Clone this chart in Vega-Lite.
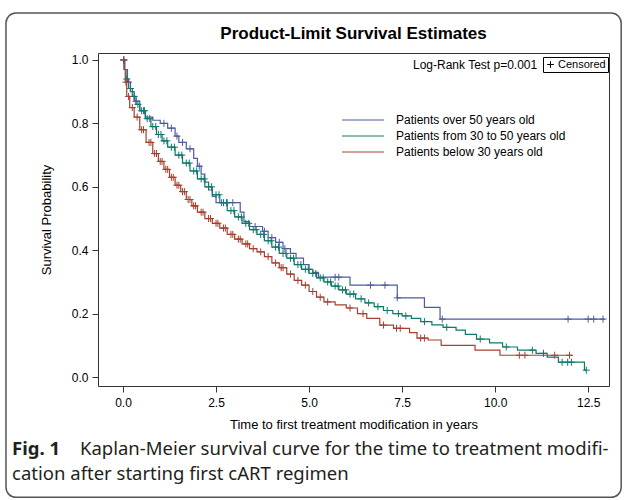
{
  "$schema": "https://vega.github.io/schema/vega-lite/v6.json",
  "width": 511,
  "height": 333,
  "padding": {"left": 5, "top": 12, "right": 0, "bottom": 0},
  "background": "white",
  "config": {
    "view": {"stroke": "#333", "strokeWidth": 1},
    "axis": {"grid": false, "domain": false, "tickSize": 6, "tickColor": "#333", "labelFont": "Liberation Sans", "labelFontSize": 12, "labelColor": "#000", "titleFont": "Liberation Sans", "titleFontSize": 13, "titleFontWeight": "normal", "titleColor": "#000"},
    "axisX": {"labelPadding": 5, "titlePadding": 10},
    "axisY": {"labelPadding": 4, "titlePadding": 18}
  },
  "datasets": {
    "curves": [
      {"group": "Patients over 50 years old", "t": 0, "S": 1.0},
      {"group": "Patients over 50 years old", "t": 0.05, "S": 0.97},
      {"group": "Patients over 50 years old", "t": 0.12, "S": 0.93},
      {"group": "Patients over 50 years old", "t": 0.2, "S": 0.9},
      {"group": "Patients over 50 years old", "t": 0.3, "S": 0.87},
      {"group": "Patients over 50 years old", "t": 0.45, "S": 0.84},
      {"group": "Patients over 50 years old", "t": 0.6, "S": 0.82},
      {"group": "Patients over 50 years old", "t": 0.8, "S": 0.81},
      {"group": "Patients over 50 years old", "t": 1.0, "S": 0.8},
      {"group": "Patients over 50 years old", "t": 1.2, "S": 0.785},
      {"group": "Patients over 50 years old", "t": 1.4, "S": 0.76},
      {"group": "Patients over 50 years old", "t": 1.5, "S": 0.74},
      {"group": "Patients over 50 years old", "t": 1.7, "S": 0.72},
      {"group": "Patients over 50 years old", "t": 1.9, "S": 0.69},
      {"group": "Patients over 50 years old", "t": 2.0, "S": 0.665},
      {"group": "Patients over 50 years old", "t": 2.1, "S": 0.64},
      {"group": "Patients over 50 years old", "t": 2.2, "S": 0.615},
      {"group": "Patients over 50 years old", "t": 2.3, "S": 0.59},
      {"group": "Patients over 50 years old", "t": 2.4, "S": 0.57},
      {"group": "Patients over 50 years old", "t": 2.5, "S": 0.55},
      {"group": "Patients over 50 years old", "t": 3.15, "S": 0.52},
      {"group": "Patients over 50 years old", "t": 3.25, "S": 0.49},
      {"group": "Patients over 50 years old", "t": 3.4, "S": 0.475},
      {"group": "Patients over 50 years old", "t": 3.75, "S": 0.46},
      {"group": "Patients over 50 years old", "t": 3.9, "S": 0.44},
      {"group": "Patients over 50 years old", "t": 4.1, "S": 0.425},
      {"group": "Patients over 50 years old", "t": 4.3, "S": 0.405},
      {"group": "Patients over 50 years old", "t": 4.5, "S": 0.39},
      {"group": "Patients over 50 years old", "t": 4.65, "S": 0.375},
      {"group": "Patients over 50 years old", "t": 4.85, "S": 0.355},
      {"group": "Patients over 50 years old", "t": 5.0, "S": 0.34},
      {"group": "Patients over 50 years old", "t": 5.1, "S": 0.33},
      {"group": "Patients over 50 years old", "t": 5.25, "S": 0.315},
      {"group": "Patients over 50 years old", "t": 6.1, "S": 0.29},
      {"group": "Patients over 50 years old", "t": 7.37, "S": 0.25},
      {"group": "Patients over 50 years old", "t": 8.1, "S": 0.22},
      {"group": "Patients over 50 years old", "t": 8.52, "S": 0.183},
      {"group": "Patients over 50 years old", "t": 12.95, "S": 0.183},

      {"group": "Patients from 30 to 50 years old", "t": 0, "S": 1.0},
      {"group": "Patients from 30 to 50 years old", "t": 0.03, "S": 0.97},
      {"group": "Patients from 30 to 50 years old", "t": 0.08, "S": 0.94},
      {"group": "Patients from 30 to 50 years old", "t": 0.15, "S": 0.91},
      {"group": "Patients from 30 to 50 years old", "t": 0.25, "S": 0.885},
      {"group": "Patients from 30 to 50 years old", "t": 0.35, "S": 0.86},
      {"group": "Patients from 30 to 50 years old", "t": 0.45, "S": 0.84},
      {"group": "Patients from 30 to 50 years old", "t": 0.6, "S": 0.815},
      {"group": "Patients from 30 to 50 years old", "t": 0.75, "S": 0.79},
      {"group": "Patients from 30 to 50 years old", "t": 0.9, "S": 0.765},
      {"group": "Patients from 30 to 50 years old", "t": 1.05, "S": 0.745},
      {"group": "Patients from 30 to 50 years old", "t": 1.2, "S": 0.725},
      {"group": "Patients from 30 to 50 years old", "t": 1.4, "S": 0.7},
      {"group": "Patients from 30 to 50 years old", "t": 1.6, "S": 0.675},
      {"group": "Patients from 30 to 50 years old", "t": 1.8, "S": 0.65},
      {"group": "Patients from 30 to 50 years old", "t": 2.0, "S": 0.625},
      {"group": "Patients from 30 to 50 years old", "t": 2.2, "S": 0.6},
      {"group": "Patients from 30 to 50 years old", "t": 2.4, "S": 0.575},
      {"group": "Patients from 30 to 50 years old", "t": 2.6, "S": 0.55},
      {"group": "Patients from 30 to 50 years old", "t": 2.8, "S": 0.525},
      {"group": "Patients from 30 to 50 years old", "t": 3.0, "S": 0.505},
      {"group": "Patients from 30 to 50 years old", "t": 3.2, "S": 0.485},
      {"group": "Patients from 30 to 50 years old", "t": 3.4, "S": 0.465},
      {"group": "Patients from 30 to 50 years old", "t": 3.6, "S": 0.45},
      {"group": "Patients from 30 to 50 years old", "t": 3.8, "S": 0.43},
      {"group": "Patients from 30 to 50 years old", "t": 4.0, "S": 0.41},
      {"group": "Patients from 30 to 50 years old", "t": 4.2, "S": 0.39},
      {"group": "Patients from 30 to 50 years old", "t": 4.4, "S": 0.375},
      {"group": "Patients from 30 to 50 years old", "t": 4.6, "S": 0.355},
      {"group": "Patients from 30 to 50 years old", "t": 4.8, "S": 0.34},
      {"group": "Patients from 30 to 50 years old", "t": 5.0, "S": 0.327},
      {"group": "Patients from 30 to 50 years old", "t": 5.2, "S": 0.313},
      {"group": "Patients from 30 to 50 years old", "t": 5.4, "S": 0.3},
      {"group": "Patients from 30 to 50 years old", "t": 5.6, "S": 0.287},
      {"group": "Patients from 30 to 50 years old", "t": 5.8, "S": 0.275},
      {"group": "Patients from 30 to 50 years old", "t": 6.0, "S": 0.262},
      {"group": "Patients from 30 to 50 years old", "t": 6.25, "S": 0.247},
      {"group": "Patients from 30 to 50 years old", "t": 6.5, "S": 0.234},
      {"group": "Patients from 30 to 50 years old", "t": 6.75, "S": 0.222},
      {"group": "Patients from 30 to 50 years old", "t": 7.0, "S": 0.21},
      {"group": "Patients from 30 to 50 years old", "t": 7.25, "S": 0.2},
      {"group": "Patients from 30 to 50 years old", "t": 7.5, "S": 0.193},
      {"group": "Patients from 30 to 50 years old", "t": 7.75, "S": 0.185},
      {"group": "Patients from 30 to 50 years old", "t": 8.0, "S": 0.175},
      {"group": "Patients from 30 to 50 years old", "t": 8.3, "S": 0.165},
      {"group": "Patients from 30 to 50 years old", "t": 8.6, "S": 0.157},
      {"group": "Patients from 30 to 50 years old", "t": 8.95, "S": 0.148},
      {"group": "Patients from 30 to 50 years old", "t": 9.2, "S": 0.135},
      {"group": "Patients from 30 to 50 years old", "t": 9.5, "S": 0.12},
      {"group": "Patients from 30 to 50 years old", "t": 9.85, "S": 0.108},
      {"group": "Patients from 30 to 50 years old", "t": 10.2, "S": 0.095},
      {"group": "Patients from 30 to 50 years old", "t": 10.6, "S": 0.085},
      {"group": "Patients from 30 to 50 years old", "t": 11.1, "S": 0.075},
      {"group": "Patients from 30 to 50 years old", "t": 11.4, "S": 0.063},
      {"group": "Patients from 30 to 50 years old", "t": 11.7, "S": 0.047},
      {"group": "Patients from 30 to 50 years old", "t": 12.4, "S": 0.022},
      {"group": "Patients from 30 to 50 years old", "t": 12.45, "S": 0.022},

      {"group": "Patients below 30 years old", "t": 0, "S": 1.0},
      {"group": "Patients below 30 years old", "t": 0.03, "S": 0.97},
      {"group": "Patients below 30 years old", "t": 0.06, "S": 0.93},
      {"group": "Patients below 30 years old", "t": 0.1, "S": 0.885},
      {"group": "Patients below 30 years old", "t": 0.18, "S": 0.85},
      {"group": "Patients below 30 years old", "t": 0.3, "S": 0.82},
      {"group": "Patients below 30 years old", "t": 0.45, "S": 0.78},
      {"group": "Patients below 30 years old", "t": 0.62, "S": 0.74},
      {"group": "Patients below 30 years old", "t": 0.8, "S": 0.705},
      {"group": "Patients below 30 years old", "t": 0.95, "S": 0.68},
      {"group": "Patients below 30 years old", "t": 1.1, "S": 0.655},
      {"group": "Patients below 30 years old", "t": 1.25, "S": 0.63},
      {"group": "Patients below 30 years old", "t": 1.4, "S": 0.605},
      {"group": "Patients below 30 years old", "t": 1.55, "S": 0.585},
      {"group": "Patients below 30 years old", "t": 1.7, "S": 0.56},
      {"group": "Patients below 30 years old", "t": 1.85, "S": 0.54},
      {"group": "Patients below 30 years old", "t": 2.0, "S": 0.52},
      {"group": "Patients below 30 years old", "t": 2.2, "S": 0.5},
      {"group": "Patients below 30 years old", "t": 2.4, "S": 0.485},
      {"group": "Patients below 30 years old", "t": 2.6, "S": 0.47},
      {"group": "Patients below 30 years old", "t": 2.8, "S": 0.45},
      {"group": "Patients below 30 years old", "t": 3.0, "S": 0.435},
      {"group": "Patients below 30 years old", "t": 3.2, "S": 0.42},
      {"group": "Patients below 30 years old", "t": 3.4, "S": 0.405},
      {"group": "Patients below 30 years old", "t": 3.6, "S": 0.395},
      {"group": "Patients below 30 years old", "t": 3.8, "S": 0.38},
      {"group": "Patients below 30 years old", "t": 4.0, "S": 0.36},
      {"group": "Patients below 30 years old", "t": 4.2, "S": 0.345},
      {"group": "Patients below 30 years old", "t": 4.4, "S": 0.325},
      {"group": "Patients below 30 years old", "t": 4.6, "S": 0.305},
      {"group": "Patients below 30 years old", "t": 4.8, "S": 0.29},
      {"group": "Patients below 30 years old", "t": 5.0, "S": 0.27},
      {"group": "Patients below 30 years old", "t": 5.2, "S": 0.252},
      {"group": "Patients below 30 years old", "t": 5.4, "S": 0.237},
      {"group": "Patients below 30 years old", "t": 5.7, "S": 0.228},
      {"group": "Patients below 30 years old", "t": 6.0, "S": 0.218},
      {"group": "Patients below 30 years old", "t": 6.3, "S": 0.2},
      {"group": "Patients below 30 years old", "t": 6.55, "S": 0.185},
      {"group": "Patients below 30 years old", "t": 6.9, "S": 0.164},
      {"group": "Patients below 30 years old", "t": 7.27, "S": 0.154},
      {"group": "Patients below 30 years old", "t": 7.7, "S": 0.14},
      {"group": "Patients below 30 years old", "t": 7.9, "S": 0.123},
      {"group": "Patients below 30 years old", "t": 8.2, "S": 0.117},
      {"group": "Patients below 30 years old", "t": 8.55, "S": 0.1},
      {"group": "Patients below 30 years old", "t": 9.46, "S": 0.085},
      {"group": "Patients below 30 years old", "t": 10.13, "S": 0.069},
      {"group": "Patients below 30 years old", "t": 12.07, "S": 0.069}
    ],
    "censored": [
      {"group": "Patients over 50 years old", "t": 0.02, "S": 1.0, "status": "Censored"},
      {"group": "Patients over 50 years old", "t": 0.15, "S": 0.93, "status": "Censored"},
      {"group": "Patients over 50 years old", "t": 0.35, "S": 0.87, "status": "Censored"},
      {"group": "Patients over 50 years old", "t": 0.55, "S": 0.84, "status": "Censored"},
      {"group": "Patients over 50 years old", "t": 1.1, "S": 0.8, "status": "Censored"},
      {"group": "Patients over 50 years old", "t": 1.3, "S": 0.785, "status": "Censored"},
      {"group": "Patients over 50 years old", "t": 1.45, "S": 0.76, "status": "Censored"},
      {"group": "Patients over 50 years old", "t": 1.6, "S": 0.74, "status": "Censored"},
      {"group": "Patients over 50 years old", "t": 1.8, "S": 0.72, "status": "Censored"},
      {"group": "Patients over 50 years old", "t": 2.05, "S": 0.665, "status": "Censored"},
      {"group": "Patients over 50 years old", "t": 2.65, "S": 0.55, "status": "Censored"},
      {"group": "Patients over 50 years old", "t": 2.8, "S": 0.55, "status": "Censored"},
      {"group": "Patients over 50 years old", "t": 2.95, "S": 0.55, "status": "Censored"},
      {"group": "Patients over 50 years old", "t": 3.55, "S": 0.475, "status": "Censored"},
      {"group": "Patients over 50 years old", "t": 3.8, "S": 0.46, "status": "Censored"},
      {"group": "Patients over 50 years old", "t": 4.0, "S": 0.44, "status": "Censored"},
      {"group": "Patients over 50 years old", "t": 4.2, "S": 0.425, "status": "Censored"},
      {"group": "Patients over 50 years old", "t": 4.35, "S": 0.405, "status": "Censored"},
      {"group": "Patients over 50 years old", "t": 5.7, "S": 0.315, "status": "Censored"},
      {"group": "Patients over 50 years old", "t": 5.8, "S": 0.315, "status": "Censored"},
      {"group": "Patients over 50 years old", "t": 6.65, "S": 0.29, "status": "Censored"},
      {"group": "Patients over 50 years old", "t": 7.04, "S": 0.29, "status": "Censored"},
      {"group": "Patients over 50 years old", "t": 7.37, "S": 0.25, "status": "Censored"},
      {"group": "Patients over 50 years old", "t": 8.58, "S": 0.183, "status": "Censored"},
      {"group": "Patients over 50 years old", "t": 11.96, "S": 0.183, "status": "Censored"},
      {"group": "Patients over 50 years old", "t": 12.5, "S": 0.183, "status": "Censored"},
      {"group": "Patients over 50 years old", "t": 12.65, "S": 0.183, "status": "Censored"},
      {"group": "Patients over 50 years old", "t": 12.9, "S": 0.183, "status": "Censored"},

      {"group": "Patients from 30 to 50 years old", "t": 0.02, "S": 1.0, "status": "Censored"},
      {"group": "Patients from 30 to 50 years old", "t": 0.1, "S": 0.94, "status": "Censored"},
      {"group": "Patients from 30 to 50 years old", "t": 0.2, "S": 0.91, "status": "Censored"},
      {"group": "Patients from 30 to 50 years old", "t": 0.3, "S": 0.885, "status": "Censored"},
      {"group": "Patients from 30 to 50 years old", "t": 0.4, "S": 0.86, "status": "Censored"},
      {"group": "Patients from 30 to 50 years old", "t": 0.5, "S": 0.84, "status": "Censored"},
      {"group": "Patients from 30 to 50 years old", "t": 0.58, "S": 0.84, "status": "Censored"},
      {"group": "Patients from 30 to 50 years old", "t": 0.65, "S": 0.815, "status": "Censored"},
      {"group": "Patients from 30 to 50 years old", "t": 0.72, "S": 0.815, "status": "Censored"},
      {"group": "Patients from 30 to 50 years old", "t": 0.8, "S": 0.79, "status": "Censored"},
      {"group": "Patients from 30 to 50 years old", "t": 0.88, "S": 0.79, "status": "Censored"},
      {"group": "Patients from 30 to 50 years old", "t": 0.95, "S": 0.765, "status": "Censored"},
      {"group": "Patients from 30 to 50 years old", "t": 1.02, "S": 0.765, "status": "Censored"},
      {"group": "Patients from 30 to 50 years old", "t": 1.1, "S": 0.745, "status": "Censored"},
      {"group": "Patients from 30 to 50 years old", "t": 1.18, "S": 0.745, "status": "Censored"},
      {"group": "Patients from 30 to 50 years old", "t": 1.3, "S": 0.725, "status": "Censored"},
      {"group": "Patients from 30 to 50 years old", "t": 1.38, "S": 0.725, "status": "Censored"},
      {"group": "Patients from 30 to 50 years old", "t": 1.5, "S": 0.7, "status": "Censored"},
      {"group": "Patients from 30 to 50 years old", "t": 1.58, "S": 0.7, "status": "Censored"},
      {"group": "Patients from 30 to 50 years old", "t": 1.7, "S": 0.675, "status": "Censored"},
      {"group": "Patients from 30 to 50 years old", "t": 1.78, "S": 0.675, "status": "Censored"},
      {"group": "Patients from 30 to 50 years old", "t": 1.9, "S": 0.65, "status": "Censored"},
      {"group": "Patients from 30 to 50 years old", "t": 1.98, "S": 0.65, "status": "Censored"},
      {"group": "Patients from 30 to 50 years old", "t": 2.1, "S": 0.625, "status": "Censored"},
      {"group": "Patients from 30 to 50 years old", "t": 2.18, "S": 0.625, "status": "Censored"},
      {"group": "Patients from 30 to 50 years old", "t": 2.3, "S": 0.6, "status": "Censored"},
      {"group": "Patients from 30 to 50 years old", "t": 2.38, "S": 0.6, "status": "Censored"},
      {"group": "Patients from 30 to 50 years old", "t": 2.5, "S": 0.575, "status": "Censored"},
      {"group": "Patients from 30 to 50 years old", "t": 2.58, "S": 0.575, "status": "Censored"},
      {"group": "Patients from 30 to 50 years old", "t": 2.7, "S": 0.55, "status": "Censored"},
      {"group": "Patients from 30 to 50 years old", "t": 2.78, "S": 0.55, "status": "Censored"},
      {"group": "Patients from 30 to 50 years old", "t": 2.9, "S": 0.525, "status": "Censored"},
      {"group": "Patients from 30 to 50 years old", "t": 2.98, "S": 0.525, "status": "Censored"},
      {"group": "Patients from 30 to 50 years old", "t": 3.1, "S": 0.505, "status": "Censored"},
      {"group": "Patients from 30 to 50 years old", "t": 3.18, "S": 0.505, "status": "Censored"},
      {"group": "Patients from 30 to 50 years old", "t": 3.3, "S": 0.485, "status": "Censored"},
      {"group": "Patients from 30 to 50 years old", "t": 3.38, "S": 0.485, "status": "Censored"},
      {"group": "Patients from 30 to 50 years old", "t": 3.5, "S": 0.465, "status": "Censored"},
      {"group": "Patients from 30 to 50 years old", "t": 3.58, "S": 0.465, "status": "Censored"},
      {"group": "Patients from 30 to 50 years old", "t": 3.7, "S": 0.45, "status": "Censored"},
      {"group": "Patients from 30 to 50 years old", "t": 3.78, "S": 0.45, "status": "Censored"},
      {"group": "Patients from 30 to 50 years old", "t": 3.9, "S": 0.43, "status": "Censored"},
      {"group": "Patients from 30 to 50 years old", "t": 3.98, "S": 0.43, "status": "Censored"},
      {"group": "Patients from 30 to 50 years old", "t": 4.1, "S": 0.41, "status": "Censored"},
      {"group": "Patients from 30 to 50 years old", "t": 4.18, "S": 0.41, "status": "Censored"},
      {"group": "Patients from 30 to 50 years old", "t": 4.3, "S": 0.39, "status": "Censored"},
      {"group": "Patients from 30 to 50 years old", "t": 4.38, "S": 0.39, "status": "Censored"},
      {"group": "Patients from 30 to 50 years old", "t": 4.5, "S": 0.375, "status": "Censored"},
      {"group": "Patients from 30 to 50 years old", "t": 4.58, "S": 0.375, "status": "Censored"},
      {"group": "Patients from 30 to 50 years old", "t": 4.7, "S": 0.355, "status": "Censored"},
      {"group": "Patients from 30 to 50 years old", "t": 4.78, "S": 0.355, "status": "Censored"},
      {"group": "Patients from 30 to 50 years old", "t": 4.9, "S": 0.34, "status": "Censored"},
      {"group": "Patients from 30 to 50 years old", "t": 4.98, "S": 0.34, "status": "Censored"},
      {"group": "Patients from 30 to 50 years old", "t": 5.1, "S": 0.327, "status": "Censored"},
      {"group": "Patients from 30 to 50 years old", "t": 5.18, "S": 0.327, "status": "Censored"},
      {"group": "Patients from 30 to 50 years old", "t": 5.3, "S": 0.313, "status": "Censored"},
      {"group": "Patients from 30 to 50 years old", "t": 5.38, "S": 0.313, "status": "Censored"},
      {"group": "Patients from 30 to 50 years old", "t": 5.5, "S": 0.3, "status": "Censored"},
      {"group": "Patients from 30 to 50 years old", "t": 5.58, "S": 0.3, "status": "Censored"},
      {"group": "Patients from 30 to 50 years old", "t": 5.7, "S": 0.287, "status": "Censored"},
      {"group": "Patients from 30 to 50 years old", "t": 5.78, "S": 0.287, "status": "Censored"},
      {"group": "Patients from 30 to 50 years old", "t": 5.9, "S": 0.275, "status": "Censored"},
      {"group": "Patients from 30 to 50 years old", "t": 5.98, "S": 0.275, "status": "Censored"},
      {"group": "Patients from 30 to 50 years old", "t": 6.1, "S": 0.262, "status": "Censored"},
      {"group": "Patients from 30 to 50 years old", "t": 6.2, "S": 0.262, "status": "Censored"},
      {"group": "Patients from 30 to 50 years old", "t": 6.4, "S": 0.247, "status": "Censored"},
      {"group": "Patients from 30 to 50 years old", "t": 6.6, "S": 0.234, "status": "Censored"},
      {"group": "Patients from 30 to 50 years old", "t": 6.85, "S": 0.222, "status": "Censored"},
      {"group": "Patients from 30 to 50 years old", "t": 7.1, "S": 0.21, "status": "Censored"},
      {"group": "Patients from 30 to 50 years old", "t": 7.4, "S": 0.2, "status": "Censored"},
      {"group": "Patients from 30 to 50 years old", "t": 7.6, "S": 0.193, "status": "Censored"},
      {"group": "Patients from 30 to 50 years old", "t": 8.1, "S": 0.175, "status": "Censored"},
      {"group": "Patients from 30 to 50 years old", "t": 8.7, "S": 0.157, "status": "Censored"},
      {"group": "Patients from 30 to 50 years old", "t": 9.6, "S": 0.12, "status": "Censored"},
      {"group": "Patients from 30 to 50 years old", "t": 10.3, "S": 0.095, "status": "Censored"},
      {"group": "Patients from 30 to 50 years old", "t": 11.0, "S": 0.085, "status": "Censored"},
      {"group": "Patients from 30 to 50 years old", "t": 11.3, "S": 0.075, "status": "Censored"},
      {"group": "Patients from 30 to 50 years old", "t": 11.8, "S": 0.047, "status": "Censored"},
      {"group": "Patients from 30 to 50 years old", "t": 11.95, "S": 0.047, "status": "Censored"},
      {"group": "Patients from 30 to 50 years old", "t": 12.05, "S": 0.047, "status": "Censored"},
      {"group": "Patients from 30 to 50 years old", "t": 12.45, "S": 0.022, "status": "Censored"},

      {"group": "Patients below 30 years old", "t": 0.02, "S": 1.0, "status": "Censored"},
      {"group": "Patients below 30 years old", "t": 0.08, "S": 0.93, "status": "Censored"},
      {"group": "Patients below 30 years old", "t": 0.15, "S": 0.885, "status": "Censored"},
      {"group": "Patients below 30 years old", "t": 0.25, "S": 0.85, "status": "Censored"},
      {"group": "Patients below 30 years old", "t": 0.38, "S": 0.82, "status": "Censored"},
      {"group": "Patients below 30 years old", "t": 0.5, "S": 0.78, "status": "Censored"},
      {"group": "Patients below 30 years old", "t": 0.55, "S": 0.78, "status": "Censored"},
      {"group": "Patients below 30 years old", "t": 0.7, "S": 0.74, "status": "Censored"},
      {"group": "Patients below 30 years old", "t": 0.75, "S": 0.74, "status": "Censored"},
      {"group": "Patients below 30 years old", "t": 0.85, "S": 0.705, "status": "Censored"},
      {"group": "Patients below 30 years old", "t": 0.9, "S": 0.705, "status": "Censored"},
      {"group": "Patients below 30 years old", "t": 1.0, "S": 0.68, "status": "Censored"},
      {"group": "Patients below 30 years old", "t": 1.05, "S": 0.68, "status": "Censored"},
      {"group": "Patients below 30 years old", "t": 1.15, "S": 0.655, "status": "Censored"},
      {"group": "Patients below 30 years old", "t": 1.2, "S": 0.655, "status": "Censored"},
      {"group": "Patients below 30 years old", "t": 1.3, "S": 0.63, "status": "Censored"},
      {"group": "Patients below 30 years old", "t": 1.35, "S": 0.63, "status": "Censored"},
      {"group": "Patients below 30 years old", "t": 1.45, "S": 0.605, "status": "Censored"},
      {"group": "Patients below 30 years old", "t": 1.5, "S": 0.605, "status": "Censored"},
      {"group": "Patients below 30 years old", "t": 1.6, "S": 0.585, "status": "Censored"},
      {"group": "Patients below 30 years old", "t": 1.65, "S": 0.585, "status": "Censored"},
      {"group": "Patients below 30 years old", "t": 1.75, "S": 0.56, "status": "Censored"},
      {"group": "Patients below 30 years old", "t": 1.8, "S": 0.56, "status": "Censored"},
      {"group": "Patients below 30 years old", "t": 1.9, "S": 0.54, "status": "Censored"},
      {"group": "Patients below 30 years old", "t": 1.95, "S": 0.54, "status": "Censored"},
      {"group": "Patients below 30 years old", "t": 2.1, "S": 0.52, "status": "Censored"},
      {"group": "Patients below 30 years old", "t": 2.15, "S": 0.52, "status": "Censored"},
      {"group": "Patients below 30 years old", "t": 2.3, "S": 0.5, "status": "Censored"},
      {"group": "Patients below 30 years old", "t": 2.35, "S": 0.5, "status": "Censored"},
      {"group": "Patients below 30 years old", "t": 2.5, "S": 0.485, "status": "Censored"},
      {"group": "Patients below 30 years old", "t": 2.55, "S": 0.485, "status": "Censored"},
      {"group": "Patients below 30 years old", "t": 2.7, "S": 0.47, "status": "Censored"},
      {"group": "Patients below 30 years old", "t": 2.75, "S": 0.47, "status": "Censored"},
      {"group": "Patients below 30 years old", "t": 2.9, "S": 0.45, "status": "Censored"},
      {"group": "Patients below 30 years old", "t": 2.95, "S": 0.45, "status": "Censored"},
      {"group": "Patients below 30 years old", "t": 3.1, "S": 0.435, "status": "Censored"},
      {"group": "Patients below 30 years old", "t": 3.15, "S": 0.435, "status": "Censored"},
      {"group": "Patients below 30 years old", "t": 3.3, "S": 0.42, "status": "Censored"},
      {"group": "Patients below 30 years old", "t": 3.35, "S": 0.42, "status": "Censored"},
      {"group": "Patients below 30 years old", "t": 3.5, "S": 0.405, "status": "Censored"},
      {"group": "Patients below 30 years old", "t": 3.7, "S": 0.395, "status": "Censored"},
      {"group": "Patients below 30 years old", "t": 3.9, "S": 0.38, "status": "Censored"},
      {"group": "Patients below 30 years old", "t": 4.1, "S": 0.36, "status": "Censored"},
      {"group": "Patients below 30 years old", "t": 4.25, "S": 0.345, "status": "Censored"},
      {"group": "Patients below 30 years old", "t": 4.3, "S": 0.345, "status": "Censored"},
      {"group": "Patients below 30 years old", "t": 4.5, "S": 0.325, "status": "Censored"},
      {"group": "Patients below 30 years old", "t": 4.7, "S": 0.305, "status": "Censored"},
      {"group": "Patients below 30 years old", "t": 4.9, "S": 0.29, "status": "Censored"},
      {"group": "Patients below 30 years old", "t": 5.1, "S": 0.27, "status": "Censored"},
      {"group": "Patients below 30 years old", "t": 5.3, "S": 0.252, "status": "Censored"},
      {"group": "Patients below 30 years old", "t": 5.5, "S": 0.237, "status": "Censored"},
      {"group": "Patients below 30 years old", "t": 6.1, "S": 0.218, "status": "Censored"},
      {"group": "Patients below 30 years old", "t": 6.45, "S": 0.2, "status": "Censored"},
      {"group": "Patients below 30 years old", "t": 7.0, "S": 0.164, "status": "Censored"},
      {"group": "Patients below 30 years old", "t": 7.35, "S": 0.154, "status": "Censored"},
      {"group": "Patients below 30 years old", "t": 7.45, "S": 0.154, "status": "Censored"},
      {"group": "Patients below 30 years old", "t": 8.0, "S": 0.123, "status": "Censored"},
      {"group": "Patients below 30 years old", "t": 8.1, "S": 0.123, "status": "Censored"},
      {"group": "Patients below 30 years old", "t": 10.65, "S": 0.069, "status": "Censored"},
      {"group": "Patients below 30 years old", "t": 10.8, "S": 0.069, "status": "Censored"},
      {"group": "Patients below 30 years old", "t": 11.6, "S": 0.069, "status": "Censored"},
      {"group": "Patients below 30 years old", "t": 12.0, "S": 0.069, "status": "Censored"}
    ]
  },
  "layer": [
    {
      "data": {"name": "curves"},
      "mark": {"type": "line", "interpolate": "step-after", "strokeWidth": 1.2},
      "encoding": {
        "x": {"field": "t", "type": "quantitative", "scale": {"domain": [-0.672, 13.06], "nice": false, "zero": false}, "axis": {"title": "Time to first treatment modification in years", "values": [0, 2.5, 5, 7.5, 10, 12.5], "format": ".1f"}},
        "y": {"field": "S", "type": "quantitative", "scale": {"domain": [-0.028, 1.022], "nice": false, "zero": false}, "axis": {"title": "Survival Probability", "values": [0, 0.2, 0.4, 0.6, 0.8, 1], "format": ".1f"}},
        "color": {"field": "group", "type": "nominal", "scale": {"domain": ["Patients over 50 years old", "Patients from 30 to 50 years old", "Patients below 30 years old"], "range": ["#4f5b9c", "#0e7a6b", "#a5412f"]}, "legend": {"title": null, "orient": "none", "legendX": 238, "legendY": 61, "symbolType": "M0,0L42,0", "symbolSize": 4, "symbolStrokeWidth": 1, "labelFont": "Liberation Sans", "labelFontSize": 12, "labelColor": "#000", "labelLimit": 400, "rowPadding": 4, "labelOffset": 48, "padding": 0}}
      }
    },
    {
      "data": {"name": "censored"},
      "mark": {"type": "point", "filled": false, "strokeWidth": 1, "size": 50, "opacity": 1},
      "encoding": {
        "x": {"field": "t", "type": "quantitative", "scale": {"domain": [-0.672, 13.06], "nice": false, "zero": false}, "axis": {"title": "Time to first treatment modification in years", "values": [0, 2.5, 5, 7.5, 10, 12.5], "format": ".1f"}},
        "y": {"field": "S", "type": "quantitative", "scale": {"domain": [-0.028, 1.022], "nice": false, "zero": false}, "axis": {"title": "Survival Probability", "values": [0, 0.2, 0.4, 0.6, 0.8, 1], "format": ".1f"}},
        "color": {"field": "group", "type": "nominal", "scale": {"domain": ["Patients over 50 years old", "Patients from 30 to 50 years old", "Patients below 30 years old"], "range": ["#4f5b9c", "#0e7a6b", "#a5412f"]}, "legend": {"title": null, "orient": "none", "legendX": 238, "legendY": 61, "symbolType": "M0,0L42,0", "symbolSize": 4, "symbolStrokeWidth": 1, "labelFont": "Liberation Sans", "labelFontSize": 12, "labelColor": "#000", "labelLimit": 400, "rowPadding": 4, "labelOffset": 48, "padding": 0}},
        "shape": {"field": "status", "type": "nominal", "scale": {"domain": ["Censored"], "range": ["M-1,0L1,0M0,-1L0,1"]}, "legend": {"title": null, "orient": "none", "legendX": 445, "legendY": 4, "strokeColor": "#000", "padding": 2, "symbolStrokeColor": "#000", "symbolFillColor": "transparent", "symbolSize": 45, "symbolStrokeWidth": 1, "labelFont": "Liberation Sans", "labelFontSize": 11, "labelColor": "#000", "labelOffset": 2}}
      }
    },
    {
      "data": {"values": [{}]},
      "mark": {"type": "text", "align": "center", "baseline": "middle", "font": "Liberation Sans", "fontSize": 17, "fontWeight": "bold", "color": "#000"},
      "encoding": {
        "x": {"datum": 6.196, "type": "quantitative", "scale": {"domain": [-0.672, 13.06], "nice": false, "zero": false}},
        "y": {"datum": 1.082, "type": "quantitative", "scale": {"domain": [-0.028, 1.022], "nice": false, "zero": false}},
        "text": {"value": "Product-Limit Survival Estimates"}
      }
    },
    {
      "data": {"values": [{}]},
      "mark": {"type": "text", "align": "right", "baseline": "middle", "font": "Liberation Sans", "fontSize": 12, "color": "#000"},
      "encoding": {
        "x": {"datum": 11.13, "type": "quantitative", "scale": {"domain": [-0.672, 13.06], "nice": false, "zero": false}},
        "y": {"datum": 0.984, "type": "quantitative", "scale": {"domain": [-0.028, 1.022], "nice": false, "zero": false}},
        "text": {"value": "Log-Rank Test p=0.001"}
      }
    },
    {
      "data": {"values": [{}]},
      "mark": {"type": "rect", "fill": "transparent", "stroke": "#555", "strokeWidth": 1.5, "cornerRadius": 10},
      "encoding": {
        "x": {"datum": -3.145, "type": "quantitative", "scale": {"domain": [-0.672, 13.06], "nice": false, "zero": false}},
        "x2": {"datum": 13.387},
        "y": {"datum": 1.148, "type": "quantitative", "scale": {"domain": [-0.028, 1.022], "nice": false, "zero": false}},
        "y2": {"datum": -0.379}
      }
    },
    {
      "data": {"values": [{}]},
      "mark": {"type": "text", "align": "left", "baseline": "middle", "font": "Noto Sans", "fontSize": 18.5, "fontWeight": "bold", "color": "#231f20"},
      "encoding": {
        "x": {"datum": -2.98, "type": "quantitative", "scale": {"domain": [-0.672, 13.06], "nice": false, "zero": false}},
        "y": {"datum": -0.227, "type": "quantitative", "scale": {"domain": [-0.028, 1.022], "nice": false, "zero": false}},
        "text": {"value": "Fig. 1"}
      }
    },
    {
      "data": {"values": [{}]},
      "mark": {"type": "text", "align": "left", "baseline": "middle", "font": "Noto Sans", "fontSize": 18.5, "color": "#231f20"},
      "encoding": {
        "x": {"datum": -1.156, "type": "quantitative", "scale": {"domain": [-0.672, 13.06], "nice": false, "zero": false}},
        "y": {"datum": -0.227, "type": "quantitative", "scale": {"domain": [-0.028, 1.022], "nice": false, "zero": false}},
        "text": {"value": "Kaplan-Meier survival curve for the time to treatment modifi-"}
      }
    },
    {
      "data": {"values": [{}]},
      "mark": {"type": "text", "align": "left", "baseline": "middle", "font": "Noto Sans", "fontSize": 18.5, "color": "#231f20"},
      "encoding": {
        "x": {"datum": -2.98, "type": "quantitative", "scale": {"domain": [-0.672, 13.06], "nice": false, "zero": false}},
        "y": {"datum": -0.306, "type": "quantitative", "scale": {"domain": [-0.028, 1.022], "nice": false, "zero": false}},
        "text": {"value": "cation after starting first cART regimen"}
      }
    }
  ]
}
